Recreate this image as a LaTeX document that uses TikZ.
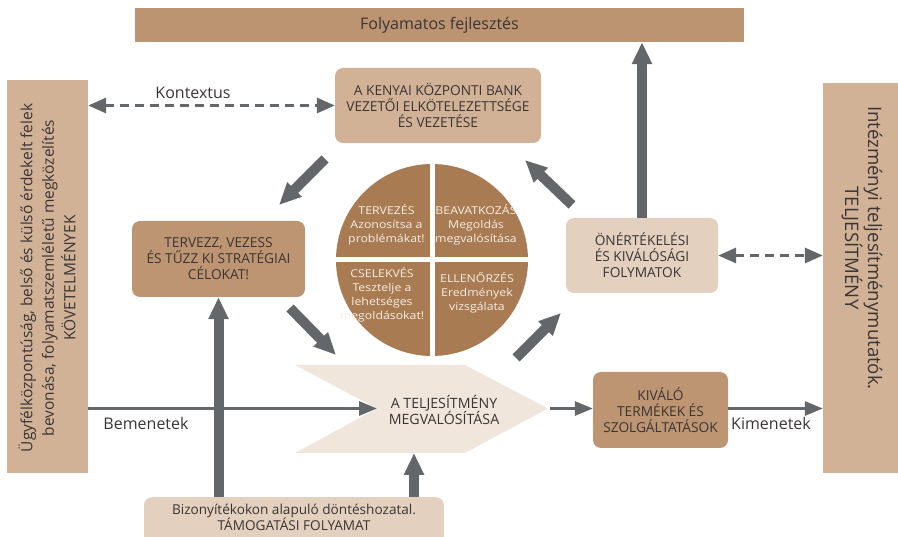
\documentclass[tikz,border=0pt]{standalone}
\usepackage{fontspec}
\setmainfont{Open Sans}
\newfontfamily\qfont[FakeStretch=1.14]{Open Sans}
\usetikzlibrary{arrows.meta}
\definecolor{barc}{HTML}{BC9472}
\definecolor{sidec}{HTML}{D2B297}
\definecolor{midc}{HTML}{BE9572}
\definecolor{lightc}{HTML}{E3D0BE}
\definecolor{chevc}{HTML}{F1E6DC}
\definecolor{circc}{HTML}{A97B52}
\definecolor{arrc}{HTML}{63676A}
\definecolor{txtc}{HTML}{3A3535}
\definecolor{qtxt}{HTML}{F6EDE4}
\tikzset{
  flatbox/.style={fill=#1, inner sep=0pt, text=txtc, align=center},
  rbox/.style={fill=#1, inner sep=0pt, rounded corners=8pt, text=txtc, align=center,
    font=\fontsize{13.7}{16}\selectfont},
  bigarrow/.style={draw=arrc, line width=10pt, -{Triangle[width=19pt,length=22pt]}},
  thinarrow/.style={draw=arrc, line width=3pt, -{Triangle[width=14pt,length=18pt]}},
  dasharrow/.style={draw=arrc, line width=3.2pt, dash pattern=on 9pt off 6pt,
    {Triangle[width=15pt,length=18pt]}-{Triangle[width=15pt,length=18pt]}},
  qtext/.style={text=qtxt, align=center, inner sep=0pt, font=\qfont\fontsize{10.8}{14}\selectfont},
  lbl/.style={text=txtc, inner sep=0pt, font=\fontsize{16}{18}\selectfont}
}
\begin{document}
\begin{tikzpicture}[x=1pt,y=-1pt]
\useasboundingbox (0,0) rectangle (898,537);
% top bar
\node[flatbox=barc, minimum width=609pt, minimum height=34pt,
  font=\fontsize{16}{18}\selectfont] (top) at (439.5,25) {Folyamatos fejlesztés};
% left tall box
\node[flatbox=sidec, minimum width=81pt, minimum height=393pt] (lbox) at (47.5,276.5) {};
\node[text=txtc, align=center, rotate=90, inner sep=0pt,
  font=\fontsize{15.5}{21.5}\selectfont] (ltext) at (47,278)
  {Ügyfélközpontúság, belső és külső érdekelt felek\\bevonása, folyamatszemléletű megközelítés\\KÖVETELMÉNYEK};
% right tall box
\node[flatbox=sidec, minimum width=80pt, minimum height=390pt] (rbox) at (863,278) {};
\node[text=txtc, align=center, rotate=-90, inner sep=0pt,
  font=\fontsize{18.6}{19.5}\selectfont] (rtext) at (862,248)
  {Intézményi teljesítménymutatók.\\TELJESÍTMÉNY};
% top centre box
\node[rbox=sidec, minimum width=206pt, minimum height=75pt] (bank) at (438,105.5)
  {A KENYAI KÖZPONTI BANK\\VEZETŐI ELKÖTELEZETTSÉGE\\ÉS VEZETÉSE};
% plan box
\node[rbox=midc, minimum width=173pt, minimum height=76pt] (plan) at (218.5,259)
  {TERVEZZ, VEZESS\\ÉS TŰZZ KI STRATÉGIAI\\CÉLOKAT!};
% self assessment box
\node[rbox=lightc, minimum width=152pt, minimum height=75pt] (self) at (642,255.5)
  {ÖNÉRTÉKELÉSI\\ÉS KIVÁLÓSÁGI\\FOLYMATOK};
% excellent products box
\node[rbox=midc, minimum width=135pt, minimum height=76pt] (prod) at (660.5,410)
  {KIVÁLÓ\\TERMÉKEK ÉS\\SZOLGÁLTATÁSOK};
% bottom box
\node[rbox=lightc, minimum width=300pt, minimum height=50pt, anchor=north] (supp) at (294,497) {};
\node[text=txtc, align=center, inner sep=0pt, font=\fontsize{13.6}{16}\selectfont]
  (supptext) at (294,517) {Bizonyítékokon alapuló döntéshozatal.\\TÁMOGATÁSI FOLYAMAT};
% chevron
\fill[chevc] (295,365) -- (465,365) -- (548,408.5) -- (465,453) -- (295,453) -- (377,408.5) -- cycle;
\coordinate (notch) at (377,408.5);
\coordinate (tip) at (550,408.5);
\coordinate (chevbot) at (414,453);
\node[text=txtc, align=center, inner sep=0pt, font=\fontsize{14.2}{16.6}\selectfont]
  (perf) at (444,410) {A TELJESÍTMÉNY\\MEGVALÓSÍTÁSA};
% circle
\node[circle, fill=circc, minimum size=192pt, inner sep=0pt] (cyc) at (432,260) {};
\draw[white, line width=5pt] (cyc.north) -- (cyc.south);
\draw[white, line width=5pt] (cyc.west) -- (cyc.east);
\node[qtext] (q1) at (386.5,225) {TERVEZÉS\\Azonosítsa a\\problémákat!};
\node[qtext] (q2) at (476,225) {BEAVATKOZÁS\\Megoldás\\megvalósítása};
\node[qtext] (q3) at (382,295) {CSELEKVÉS\\Tesztelje a\\lehetséges\\megoldásokat!};
\node[qtext] (q4) at (477,293) {ELLENŐRZÉS\\Eredmények\\vizsgálata};
% connectors
\draw[dasharrow] (lbox.east |- bank.west) -- (bank.west);
\node[lbl] (kontext) at (193,93) {Kontextus};
\draw[dasharrow] (self.east) -- (rbox.west |- self.east);
\draw[bigarrow] (self.north) -- (self.north |- top.south);
\draw[thinarrow] (lbox.east |- notch) -- (notch);
\node[lbl] (bem) at (146,424) {Bemenetek};
\draw[thinarrow] (tip) -- (prod.west |- tip);
\draw[thinarrow] (prod.east |- tip) -- (rbox.west |- tip);
\node[lbl] (kim) at (771,424) {Kimenetek};
\draw[bigarrow] (supp.north -| plan.south) -- (plan.south);
\draw[bigarrow] (supp.north -| chevbot) -- (chevbot);
% diagonal arrows
\coordinate (d1s) at (325,159); \coordinate (d1e) at (279,205);
\coordinate (d2s) at (290,308); \coordinate (d2e) at (336,355);
\coordinate (d3s) at (516,358); \coordinate (d3e) at (561,313);
\coordinate (d4s) at (572,205); \coordinate (d4e) at (525,160);
\draw[bigarrow] (d1s) -- (d1e);
\draw[bigarrow] (d2s) -- (d2e);
\draw[bigarrow] (d3s) -- (d3e);
\draw[bigarrow] (d4s) -- (d4e);
\end{tikzpicture}
\end{document}
